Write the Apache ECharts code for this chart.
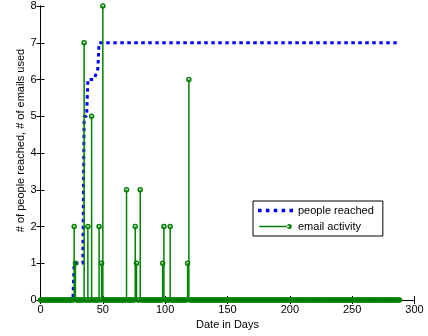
<!DOCTYPE html>
<html>
<head>
<meta charset="utf-8">
<script src="https://cdn.jsdelivr.net/npm/echarts@6/dist/echarts.min.js"></script>
<style>
  html, body { margin: 0; padding: 0; background: #fff; }
  #main { width: 428px; height: 336px; }
</style>
</head>
<body>
<div id="main"></div>
<script>
// people reached (dotted blue curve), break points [day, people]
const reachedDays = [0, 26, 27, 34, 35, 37, 38, 43, 46, 47, 286];
const reachedValues = [0, 0, 1, 1, 5, 5, 6, 6, 6.3, 7, 7];

// email activity (green stems): days with emails and number used
const emailDays = [27, 28, 35, 38, 41, 47, 49, 50, 69, 76, 77, 80, 98, 99, 104, 118, 119];
const emailValues = [2, 1, 7, 2, 5, 2, 1, 8, 3, 2, 1, 3, 1, 2, 2, 1, 6];
const lastDay = 288; // every other day up to here is a zero stem

const xTicks = [0, 50, 100, 150, 200, 250, 300];
const yTicks = [0, 1, 2, 3, 4, 5, 6, 7, 8];

const FONT = "'Liberation Sans', Arial, sans-serif";
const BLUE = '#0000ff';
const GREEN = '#008000';

const reachedData = reachedDays.map((d, i) => [d, reachedValues[i]]);
const emailData = [];
for (let d = 0; d <= lastDay; d++) {
  const k = emailDays.indexOf(d);
  emailData.push([d, k >= 0 ? emailValues[k] : 0]);
}

// legend icons: dotted line, and line with a dot
const dottedIcon = 'path://M0,0h3.5v3.5h-3.5z M7.75,0h3.5v3.5h-3.5z M15.5,0h3.5v3.5h-3.5z M23.25,0h3.5v3.5h-3.5z M31,0h3.5v3.5h-3.5z';
const stemIcon = 'path://M0,1.75h30v1.5h-30z M27.5,2.5a2.5,2.5 0 1,0 5,0a2.5,2.5 0 1,0 -5,0z';

const axisCommon = {
  axisLine: { show: true, lineStyle: { color: '#000', width: 1 } },
  axisTick: { show: true, inside: true, length: 4, lineStyle: { color: '#000' } },
  splitLine: { show: false }
};

var myChart = echarts.init(document.getElementById('main'));
myChart.setOption({
  animation: false,
  grid: { left: 40.5, right: 13.5, top: 6, bottom: 36 },
  legend: {
    orient: 'vertical',
    left: 253,
    top: 201,
    padding: [4, 9, 4, 5],
    itemGap: 5,
    itemWidth: 35,
    itemHeight: 5,
    borderColor: '#000',
    borderWidth: 1,
    backgroundColor: '#fff',
    selectedMode: false,
    itemStyle: { borderWidth: 0 },
    textStyle: { fontFamily: FONT, fontSize: 11, color: '#000' },
    data: [
      { name: 'people reached', icon: dottedIcon },
      { name: 'email activity', icon: stemIcon }
    ]
  },
  xAxis: [
    Object.assign({
      type: 'value', min: xTicks[0], max: xTicks[xTicks.length - 1], interval: 50,
      position: 'bottom',
      name: 'Date in Days', nameLocation: 'middle', nameGap: 17,
      nameTextStyle: { fontFamily: FONT, fontSize: 11, color: '#000' },
      axisLabel: { fontFamily: FONT, fontSize: 11, color: '#000', margin: 4 }
    }, axisCommon),
    Object.assign({
      type: 'value', min: xTicks[0], max: xTicks[xTicks.length - 1], interval: 50,
      position: 'top', axisLabel: { show: false }
    }, axisCommon)
  ],
  yAxis: [
    Object.assign({
      type: 'value', min: yTicks[0], max: yTicks[yTicks.length - 1], interval: 1,
      position: 'left',
      name: '# of people reached, # of emails used', nameLocation: 'middle', nameGap: 14,
      nameMoveOverlap: false,
      nameTextStyle: { fontFamily: FONT, fontSize: 11, color: '#000', padding: [0, 0, 0, 25] },
      axisLabel: { fontFamily: FONT, fontSize: 11, color: '#000', margin: 4 }
    }, axisCommon),
    Object.assign({
      type: 'value', min: yTicks[0], max: yTicks[yTicks.length - 1], interval: 1,
      position: 'right', axisLabel: { show: false }
    }, axisCommon)
  ],
  series: [
    {
      name: 'people reached',
      type: 'line',
      data: reachedData,
      symbol: 'none',
      itemStyle: { color: BLUE },
      lineStyle: { color: BLUE, width: 3, type: [3.5, 3.5], cap: 'butt' },
      z: 2
    },
    {
      name: 'email activity',
      type: 'custom',
      data: emailData,
      itemStyle: { color: GREEN },
      z: 3,
      renderItem: function (params, api) {
        const x = api.value(0), v = api.value(1);
        const base = api.coord([x, 0]);
        const top = api.coord([x, v]);
        const children = [];
        if (v > 0) {
          children.push({
            type: 'line',
            shape: { x1: base[0], y1: base[1], x2: top[0], y2: top[1] },
            style: { stroke: GREEN, lineWidth: 1.5 }
          });
        }
        children.push({
          type: 'circle',
          shape: { cx: top[0], cy: top[1], r: 2 },
          style: { fill: 'none', stroke: GREEN, lineWidth: 1.5 }
        });
        return { type: 'group', children: children };
      }
    }
  ]
});
</script>
</body>
</html>
